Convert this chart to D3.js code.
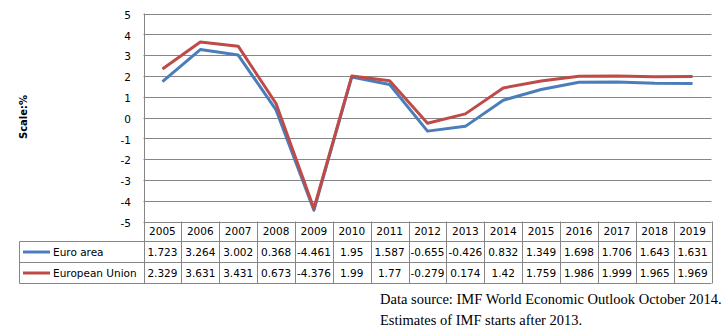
<!DOCTYPE html>
<html><head><meta charset="utf-8">
<script src="https://cdn.jsdelivr.net/npm/d3@7"></script>
<style>
body{margin:0;background:#fff;}
svg{display:block;}
</style></head>
<body>
<svg id="c" width="726" height="332"></svg>
<script>
const years = ["2005","2006","2007","2008","2009","2010","2011","2012","2013","2014","2015","2016","2017","2018","2019"];
const euroArea = [1.723,3.264,3.002,0.368,-4.461,1.95,1.587,-0.655,-0.426,0.832,1.349,1.698,1.706,1.643,1.631];
const europeanUnion = [2.329,3.631,3.431,0.673,-4.376,1.99,1.77,-0.279,0.174,1.42,1.759,1.986,1.999,1.965,1.969];
const yTicks = [5,4,3,2,1,0,-1,-2,-3,-4,-5];
const seriesNames = ["Euro area","European Union"];
const seriesColors = ["#4a7ebb","#be4b48"];
const yTitle = "Scale:%";
const notes = ["Data source: IMF World Economic Outlook October 2014.","Estimates of IMF starts after 2013."];

const svg = d3.select("#c");
const L = 143.5, R = 711.5, T = 13.5, B = 221.5;
const x = d3.scaleBand().domain(years).range([L, R]);
const y = d3.scaleLinear().domain([-5,5]).range([B, T]);
const grid = "#868686";
const font = "DejaVu Sans";

// gridlines
svg.append("g").selectAll("line").data(yTicks).join("line")
  .attr("x1", L).attr("x2", R)
  .attr("y1", d => Math.round(y(d)) + 0.5).attr("y2", d => Math.round(y(d)) + 0.5)
  .attr("stroke", grid).attr("stroke-width", 1);

// y axis labels
const yAxis = d3.axisLeft(y).tickValues(yTicks).tickSize(0).tickPadding(0).tickFormat(d => String(d));
const ga = svg.append("g").attr("transform", `translate(${131},0)`).call(yAxis);
ga.select(".domain").remove();
ga.selectAll("text").attr("font-family", font).attr("font-size", 10.5).attr("fill", "#000").attr("dy", "0.45em");

// y title
svg.append("text").attr("transform", "translate(27,117) rotate(-90)")
  .attr("text-anchor", "middle").attr("font-family", font).attr("font-weight", "bold")
  .attr("font-size", 10).text(yTitle);

// table
const rowH = [221.5, 241.5, 262.5, 283.5];
const tLeft = 19.5;
const tg = svg.append("g");
[1,2,3].forEach(k => {
  tg.append("line").attr("x1", tLeft).attr("x2", R).attr("y1", rowH[k]).attr("y2", rowH[k]).attr("stroke", grid);
});
const vx = years.map(d => x(d)).concat([R]);
tg.selectAll("line.v").data(vx).join("line").attr("class","v")
  .attr("x1", d => Math.round(d) + 0.5).attr("x2", d => Math.round(d) + 0.5)
  .attr("y1", (d,i) => i === 0 ? T : rowH[0]).attr("y2", rowH[3]).attr("stroke", grid);
tg.append("line").attr("x1", tLeft).attr("x2", tLeft).attr("y1", rowH[1]).attr("y2", rowH[3]).attr("stroke", grid);

// header
tg.selectAll("text.h").data(years).join("text").attr("class","h")
  .attr("x", d => x(d) + x.bandwidth()/2).attr("y", (rowH[0]+rowH[1])/2)
  .attr("dy","0.36em").attr("text-anchor","middle").attr("font-family", font).attr("font-size", 10.5).text(d => d);

const dataRows = [euroArea, europeanUnion];
dataRows.forEach((vals, r) => {
  const cy = (rowH[r+1] + rowH[r+2]) / 2;
  tg.append("g").selectAll("text").data(vals).join("text")
    .attr("x", (d,i) => x(years[i]) + x.bandwidth()/2).attr("y", cy)
    .attr("dy","0.36em").attr("text-anchor","middle").attr("font-family", font).attr("font-size", 10.5)
    .text(d => String(d));
  tg.append("line").attr("x1", 23).attr("x2", 50).attr("y1", cy).attr("y2", cy)
    .attr("stroke", seriesColors[r]).attr("stroke-width", 3);
  tg.append("text").attr("x", 53).attr("y", cy).attr("dy","0.36em")
    .attr("font-family", font).attr("font-size", 10.5).text(seriesNames[r]);
});

// lines
const line = d3.line().x((d,i) => x(years[i]) + x.bandwidth()/2).y(d => y(d));
dataRows.forEach((vals, r) => {
  svg.append("path").datum(vals).attr("d", line).attr("fill","none")
    .attr("stroke", seriesColors[r]).attr("stroke-width", 3).attr("stroke-linejoin","round");
});

// notes
svg.selectAll("text.n").data(notes).join("text").attr("class","n")
  .attr("x", 380).attr("y", (d,i) => 304 + i*21)
  .attr("font-family", "Liberation Serif").attr("font-size", 14.5).text(d => d);
</script>
</body></html>
